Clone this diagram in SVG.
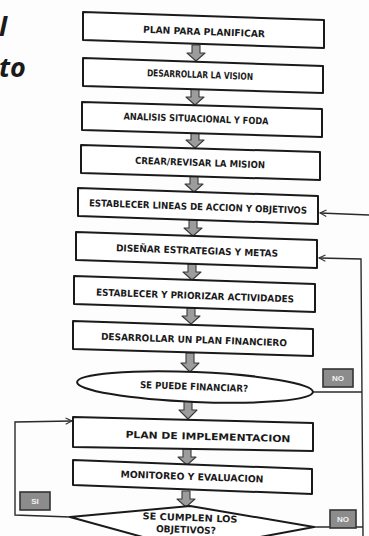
<svg xmlns="http://www.w3.org/2000/svg" width="369" height="536" viewBox="0 0 369 536">
<defs>
<marker id="open" viewBox="0 0 10 10" refX="9" refY="5" markerWidth="8" markerHeight="8" orient="auto" markerUnits="userSpaceOnUse">
<polyline points="1,1 9,5 1,9" fill="none" stroke="#333" stroke-width="1.4"/>
</marker>
</defs>
<style>
.box{fill:#fff;stroke:#1a1a1a;stroke-width:2;stroke-linejoin:round}
.lbl{font-family:"Liberation Sans Narrow","DejaVu Sans Condensed","Liberation Sans",Arial,sans-serif;font-weight:bold;font-size:9.5px;fill:#1a1a1a;text-anchor:middle}
.arr{fill:#9c9c9c;stroke:#3a3a3a;stroke-width:1.1;stroke-linejoin:round}
.con{fill:none;stroke:#2a2a2a;stroke-width:1.4}
.tag{fill:#8c8c8c;stroke:#333;stroke-width:1.6}
.tagt{font-family:"Liberation Sans",Arial,sans-serif;font-weight:bold;font-size:8px;fill:#f2f2f2;text-anchor:middle}
.title{font-family:"Open Sans","Liberation Sans",Arial,sans-serif;font-weight:bold;font-style:italic;font-size:27px;fill:#1a1a1a}
</style>
<rect width="369" height="536" fill="#fdfdfd"/>
<text class="title" x="-1" y="36">l</text>
<text class="title" x="-1" y="77">to</text>

<g id="connectors">
<path class="arr" d="M192,45 L200,45 L200,53 L205,53 L196,61 L187,53 L192,53 Z"/>
<path class="arr" d="M191,89 L199,89 L199,97 L204,97 L195,105 L186,97 L191,97 Z"/>
<path class="arr" d="M191,133 L199,133 L199,140 L204,140 L195,148 L186,140 L191,140 Z"/>
<path class="arr" d="M190,176 L198,176 L198,184 L203,184 L194,192 L185,184 L190,184 Z"/>
<path class="arr" d="M189,220 L197,220 L197,228 L202,228 L193,236 L184,228 L189,228 Z"/>
<path class="arr" d="M188,264 L196,264 L196,272 L201,272 L192,280 L183,272 L188,272 Z"/>
<path class="arr" d="M187,308 L195,308 L195,316 L200,316 L191,324 L182,316 L187,316 Z"/>
<path class="arr" d="M186,353 L194,353 L194,363 L199,363 L190,372 L181,363 L186,363 Z"/>
<path class="arr" d="M184,401 L192,401 L192,410 L197,410 L188,419 L179,410 L184,410 Z"/>
<path class="arr" d="M183,449 L191,449 L191,457 L196,457 L187,465 L178,457 L183,457 Z"/>
<path class="arr" d="M182,491 L190,491 L190,499 L195,499 L186,507 L177,499 L182,499 Z"/>
<path class="con" d="M369,215 L320,213" marker-end="url(#open)"/>
<path class="con" d="M313,392 L362,392"/>
<path class="con" d="M363,536 L361,259 L319,258" marker-end="url(#open)"/>
<path class="con" d="M313,527 L363,527"/>
<path class="con" d="M70,517 L15,515 L15,422 L72,421" marker-end="url(#open)"/>
</g>

<g id="n1"><polygon class="box" points="83,12 324,20 324,48 83,40"/><text class="lbl" x="204" y="35" textLength="122" lengthAdjust="spacingAndGlyphs" transform="rotate(2 204 32)">PLAN PARA PLANIFICAR</text></g>
<g id="n2"><polygon class="box" points="83,58 323,66 323,93 83,86"/><text class="lbl" x="200" y="78" textLength="106" lengthAdjust="spacingAndGlyphs" transform="rotate(2 200 75)">DESARROLLAR LA VISION</text></g>
<g id="n3"><polygon class="box" points="82,102 322,109 322,137 82,130"/><text class="lbl" x="196" y="122" textLength="145" lengthAdjust="spacingAndGlyphs" transform="rotate(2 196 119)">ANALISIS SITUACIONAL Y FODA</text></g>
<g id="n4"><polygon class="box" points="81,145 320,152 320,180 81,173"/><text class="lbl" x="200" y="166" textLength="130" lengthAdjust="spacingAndGlyphs" transform="rotate(2 200 163)">CREAR/REVISAR LA MISION</text></g>
<g id="n5"><polygon class="box" points="78,188 318,196 318,224 78,216"/><text class="lbl" x="198" y="210" textLength="218" lengthAdjust="spacingAndGlyphs" transform="rotate(2 198 207)">ESTABLECER LINEAS DE ACCION Y OBJETIVOS</text></g>
<g id="n6"><polygon class="box" points="76,232 317,240 317,268 76,260"/><text class="lbl" x="197" y="254" textLength="162" lengthAdjust="spacingAndGlyphs" transform="rotate(2 197 251)">DISEÑAR ESTRATEGIAS Y METAS</text></g>
<g id="n7"><polygon class="box" points="74,276 315,284 315,312 74,304"/><text class="lbl" x="195" y="299" textLength="198" lengthAdjust="spacingAndGlyphs" transform="rotate(2 195 296)">ESTABLECER Y PRIORIZAR ACTIVIDADES</text></g>
<g id="n8"><polygon class="box" points="73,321 313,329 313,356 73,349"/><text class="lbl" x="194" y="343" textLength="186" lengthAdjust="spacingAndGlyphs" transform="rotate(2 194 340)">DESARROLLAR UN PLAN FINANCIERO</text></g>
<g id="n9"><ellipse class="box" cx="195" cy="387" rx="118" ry="15" transform="rotate(2.4 195 387)"/><text class="lbl" x="194" y="390" textLength="108" lengthAdjust="spacingAndGlyphs" transform="rotate(2 194 387)">SE PUEDE FINANCIAR?</text></g>
<g id="no1"><rect class="tag" x="323" y="369" width="30" height="18"/><text class="tagt" x="338" y="381">NO</text></g>
<g id="n10"><polygon class="box" points="73,417 313,423 313,451 73,447"/><text class="lbl" x="208" y="440" textLength="165" lengthAdjust="spacingAndGlyphs" transform="rotate(1.5 208 437)">PLAN DE IMPLEMENTACION</text></g>
<g id="n11"><polygon class="box" points="73,460 312,469 312,494 73,485"/><text class="lbl" x="192" y="480" textLength="143" lengthAdjust="spacingAndGlyphs" transform="rotate(2 192 477)">MONITOREO Y EVALUACION</text></g>
<g id="n12"><polygon class="box" points="70,517 190,506 314,527 190,550"/><text class="lbl" x="190" y="521" textLength="95" lengthAdjust="spacingAndGlyphs" transform="rotate(2 190 518)">SE CUMPLEN LOS</text><text class="lbl" x="186" y="533" textLength="60" lengthAdjust="spacingAndGlyphs" transform="rotate(2 186 530)">OBJETIVOS?</text></g>
<g id="si"><rect class="tag" x="20" y="492" width="30" height="18"/><text class="tagt" x="35" y="504">SI</text></g>
<g id="no2"><rect class="tag" x="330" y="510" width="26" height="18"/><text class="tagt" x="343" y="522">NO</text></g>
</svg>
